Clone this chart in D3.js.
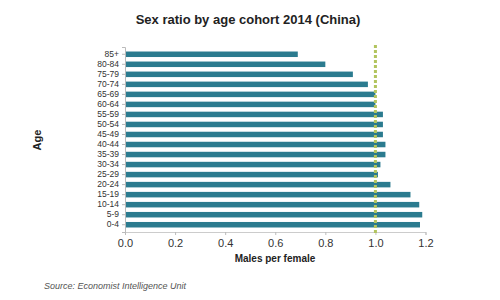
<!DOCTYPE html>
<html>
<head>
<meta charset="utf-8">
<script src="https://cdn.jsdelivr.net/npm/d3@7"></script>
<style>
body { margin: 0; background: #fff; }
text { font-family: "Liberation Sans", Arial, sans-serif; }
</style>
</head>
<body>
<div id="vis"></div>
<script>
var w = 500, h = 300;

// age cohorts, top to bottom
var ages = ["85+", "80-84", "75-79", "70-74", "65-69", "60-64", "55-59", "50-54", "45-49",
            "40-44", "35-39", "30-34", "25-29", "20-24", "15-19", "10-14", "5-9", "0-4"];
// males per female
var ratios = [0.69, 0.80, 0.91, 0.97, 1.00, 1.00, 1.03, 1.03, 1.03,
              1.04, 1.04, 1.02, 1.01, 1.06, 1.14, 1.175, 1.187, 1.178];
var xTicks = [0, 0.2, 0.4, 0.6, 0.8, 1.0, 1.2];
var parity = 1.0;

var data = ages.map(function(a, i){ return {age: a, ratio: ratios[i]}; });

var x = d3.scaleLinear().domain([0, 1.2]).range([125, 425.5]);
var y = d3.scaleBand().domain(ages).range([47, 232]).padding(0.45);

var svg = d3.select("#vis").append("svg")
    .attr("width", w).attr("height", h);

// title
svg.append("text")
    .attr("x", 248).attr("y", 24)
    .attr("text-anchor", "middle")
    .style("font-size", "13px").style("font-weight", "bold").style("fill", "#222")
    .text("Sex ratio by age cohort 2014 (China)");

// bars
svg.selectAll("rect.bar")
    .data(data)
    .enter().append("rect")
    .attr("class", "bar")
    .attr("x", x(0))
    .attr("y", function(d){ return y(d.age); })
    .attr("width", function(d){ return x(d.ratio) - x(0); })
    .attr("height", y.bandwidth())
    .attr("fill", "#2b7b8f");

// y axis
var yAxis = svg.append("g")
    .attr("transform", "translate(" + x(0) + ",0)")
    .call(d3.axisLeft(y).tickSize(3).tickPadding(3));
yAxis.select(".domain").attr("stroke", "#bbb");
yAxis.selectAll(".tick line").attr("stroke", "#bbb");
yAxis.selectAll("text").style("font-size", "8.5px").style("fill", "#333").style("font-family", "'Liberation Sans', Arial, sans-serif");

// x axis
var xAxis = svg.append("g")
    .attr("transform", "translate(0,232)")
    .call(d3.axisBottom(x).tickValues(xTicks).tickFormat(d3.format(".1f")).tickSize(3).tickPadding(4));
xAxis.select(".domain").attr("stroke", "#ccc");
xAxis.selectAll(".tick line").attr("stroke", "#bbb");
xAxis.selectAll("text").style("font-size", "11px").style("fill", "#333").style("font-family", "'Liberation Sans', Arial, sans-serif");

// parity line
svg.append("line")
    .attr("x1", x(parity)).attr("x2", x(parity))
    .attr("y1", 45).attr("y2", 234)
    .attr("stroke", "#b2c45e")
    .attr("stroke-width", 3)
    .attr("stroke-dasharray", "3,2");

// axis titles
svg.append("text")
    .attr("x", 275).attr("y", 262)
    .attr("text-anchor", "middle")
    .style("font-size", "10px").style("font-weight", "bold").style("fill", "#222")
    .text("Males per female");

svg.append("text")
    .attr("transform", "translate(41,140) rotate(-90)")
    .attr("text-anchor", "middle")
    .style("font-size", "11px").style("font-weight", "bold").style("fill", "#222")
    .text("Age");

// source
svg.append("text")
    .attr("x", 44).attr("y", 289)
    .style("font-size", "9px").style("font-style", "italic").style("fill", "#555")
    .text("Source: Economist Intelligence Unit");
</script>
</body>
</html>
